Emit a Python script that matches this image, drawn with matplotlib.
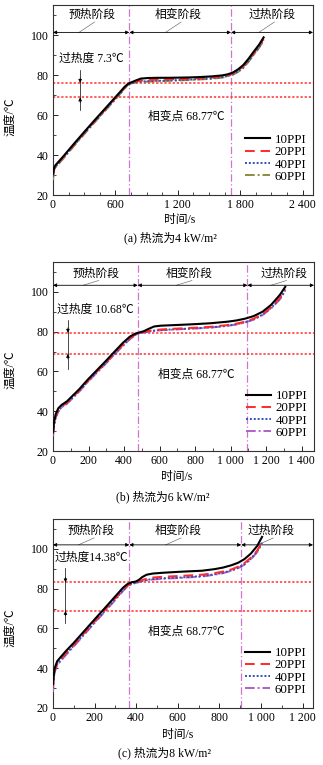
import matplotlib
matplotlib.use("Agg")
import matplotlib.pyplot as plt
from matplotlib.ticker import MultipleLocator, FixedLocator

plt.rcParams['font.family'] = ['Liberation Serif', 'Noto Sans CJK SC', 'DejaVu Sans']
plt.rcParams['axes.unicode_minus'] = False

series_names = ['10PPI', '20PPI', '40PPI', '60PPI']

# ---- panel (a) 4 kW/m2 ----
t_a = [0, 10, 25, 51, 102, 203, 305, 407, 508, 610, 691, 722, 752, 793, 844, 915, 1017, 1118,
       1220, 1322, 1423, 1525, 1627, 1677, 1728, 1779, 1830, 1881, 1932, 1982, 2025]
a_10 = [30.5, 33.5, 35.0, 36.5, 39.5, 45.7, 51.8, 57.8, 63.6, 69.5, 74.2, 75.6, 76.3, 77.2, 78.2, 78.5,
        78.6, 78.6, 78.7, 78.8, 79.0, 79.3, 79.8, 80.3, 81.2, 82.8, 85.0, 88.2, 91.8, 95.2, 98.8]
a_20 = [30.0, 33.0, 34.5, 36.0, 39.0, 45.2, 51.3, 57.3, 63.1, 69.0, 73.8, 75.3, 76.0, 76.6, 77.2, 77.5,
        77.7, 77.9, 78.0, 78.2, 78.4, 78.7, 79.3, 79.8, 80.7, 82.2, 84.3, 87.5, 91.0, 94.5, 98.0]
a_40 = [29.0, 32.5, 34.2, 35.7, 38.7, 44.9, 51.0, 57.0, 62.8, 68.7, 73.5, 75.1, 75.9, 76.3, 76.7, 76.9,
        77.1, 77.3, 77.5, 77.7, 78.0, 78.3, 78.9, 79.5, 80.3, 81.8, 83.8, 87.0, 90.5, 94.0, 97.5]
a_60 = [27.5, 32.0, 33.8, 35.4, 38.4, 44.6, 50.7, 56.7, 62.5, 68.4, 73.3, 75.0, 75.8, 76.2, 76.5, 76.7,
        76.9, 77.1, 77.3, 77.5, 77.8, 78.1, 78.7, 79.3, 80.1, 81.5, 83.5, 86.7, 90.2, 93.6, 97.2]

# ---- panel (b) 6 kW/m2 ----
t_b = [0, 5, 15, 30, 49, 79, 147, 197, 246, 295, 344, 393, 433, 462, 482, 511, 541, 570, 609, 688,
       786, 885, 983, 1032, 1081, 1130, 1180, 1229, 1278, 1308]
b_10 = [29.5, 34.0, 38.5, 41.5, 43.2, 45.0, 51.0, 56.0, 60.5, 65.0, 69.7, 74.3, 77.5, 78.9, 79.5, 80.2,
        81.5, 82.6, 83.0, 83.3, 83.7, 84.2, 85.0, 85.6, 86.5, 87.8, 90.0, 93.5, 98.5, 102.5]
b_20 = [28.5, 33.0, 37.5, 40.5, 42.5, 44.3, 50.3, 55.3, 59.8, 64.2, 68.8, 73.3, 76.6, 78.5, 79.3, 79.9,
        80.4, 80.8, 81.1, 81.5, 81.9, 82.4, 83.3, 84.0, 85.0, 86.5, 88.8, 92.3, 97.0, 101.3]
b_40 = [28.0, 32.5, 37.0, 40.0, 42.2, 44.0, 50.0, 55.0, 59.5, 63.9, 68.5, 73.0, 76.4, 78.3, 79.2, 79.7,
        80.1, 80.5, 80.8, 81.2, 81.6, 82.1, 83.0, 83.7, 84.7, 86.2, 88.5, 92.0, 96.5, 100.8]
b_60 = [27.5, 32.0, 36.7, 39.8, 42.0, 43.8, 49.8, 54.8, 59.3, 63.7, 68.3, 72.8, 76.2, 78.2, 79.1, 79.6,
        80.0, 80.4, 80.7, 81.1, 81.5, 82.0, 82.9, 83.6, 84.6, 86.0, 88.3, 91.7, 96.2, 100.5]

# ---- panel (c) 8 kW/m2 ----
t_c = [0, 3, 8, 20, 36, 61, 102, 153, 204, 256, 307, 337, 358, 378, 399, 414, 429, 450, 481, 532,
       614, 716, 777, 818, 859, 890, 920, 951, 982, 1005]
c_10 = [32.0, 36.0, 40.0, 43.5, 45.5, 48.5, 53.0, 59.0, 65.0, 71.0, 77.0, 80.5, 82.3, 83.2, 83.6, 84.5,
        85.8, 87.0, 87.6, 88.0, 88.5, 89.0, 89.8, 90.6, 91.8, 93.0, 94.8, 97.6, 101.5, 106.0]
c_20 = [30.5, 35.0, 39.0, 42.5, 44.5, 47.5, 52.0, 58.0, 64.0, 70.0, 76.0, 79.6, 81.6, 82.7, 83.2, 83.7,
        84.3, 85.0, 85.6, 86.0, 86.4, 87.0, 87.8, 88.6, 89.7, 91.0, 92.8, 95.6, 99.2, 103.5]
c_40 = [30.0, 34.5, 38.5, 42.0, 44.0, 47.0, 51.6, 57.6, 63.6, 69.6, 75.6, 79.2, 81.3, 82.5, 83.0, 83.4,
        83.9, 84.4, 84.8, 85.2, 85.6, 86.3, 87.2, 88.0, 89.2, 90.5, 92.3, 95.0, 98.7, 103.0]
c_60 = [28.0, 34.0, 38.0, 41.5, 43.5, 46.5, 51.2, 57.2, 63.2, 69.2, 75.2, 78.9, 81.1, 82.3, 82.9, 83.3,
        83.7, 84.2, 84.6, 85.0, 85.4, 86.1, 87.0, 87.8, 89.0, 90.3, 92.0, 94.7, 98.4, 102.7]

phase_point = 68.77
superheat = [7.3, 10.68, 14.38]
stage_bounds = [[734, 1712], [477, 1095], [367, 905]]
stage_names = ['预热阶段', '相变阶段', '过热阶段']
captions = ['(a) 热流为4 kW/m²', '(b) 热流为6 kW/m²', '(c) 热流为8 kW/m²']
superheat_texts = ['过热度 7.3℃', '过热度 10.68℃', '过热度14.38℃']
phase_text = '相变点 68.77℃'
xticks_major = [[0, 600, 1200, 1800, 2400],
                [0, 200, 400, 600, 800, 1000, 1200, 1400],
                [0, 200, 400, 600, 800, 1000, 1200]]
xtick_labels = [['0', '600', '1 200', '1 800', '2 400'],
                ['0', '200', '400', '600', '800', '1 000', '1 200', '1 400'],
                ['0', '200', '400', '600', '800', '1 000', '1 200']]
yticks = [20, 40, 60, 80, 100]

panels = [
    dict(t=t_a, ys=[a_10, a_20, a_40, a_60], xlim=(0, 2500), minor=150, c60='#8c8c3c',
         arrow_y=101.3, label_y=110.0, label_x=[375, 1207, 2104], vx=261, vtop=82.5, vbot=62.5,
         sh_xy=(59, 88.3), ph_xy=(913, 59.2)),
    dict(t=t_b, ys=[b_10, b_20, b_40, b_60], xlim=(0, 1470), minor=100, c60='#b060c8',
         arrow_y=103.3, label_y=109.2, label_x=[243, 768, 1301], vx=84, vtop=85.8, vbot=61.0,
         sh_xy=(22, 91.1), ph_xy=(590, 58.2)),
    dict(t=t_c, ys=[c_10, c_20, c_40, c_60], xlim=(0, 1250), minor=100, c60='#b060c8',
         arrow_y=102.0, label_y=109.0, label_x=[185, 604, 1047], vx=60, vtop=90.3, vbot=62.5,
         sh_xy=(8, 95.3), ph_xy=(456, 58.3)),
]

W, H = 323, 765
fig = plt.figure(figsize=(W / 100, H / 100), dpi=100)
boxes = [(53, 5, 313, 195), (53, 262, 314, 451), (53, 519, 313, 708)]
xlab_pos = [(180, 220), (177, 477), (178, 735)]
cap_pos = [(170, 238), (163, 497), (165, 753)]
ylab_pos = [(10, 117), (10, 370), (10, 628)]

fs = 8.5
styles = [dict(color='black', ls='-', lw=1.5),
          dict(color='#ff2a2a', ls=(0, (5, 3)), lw=1.4),
          dict(color='#2f4fc0', ls=(0, (1, 1)), lw=1.4),
          None]

for i, p in enumerate(panels):
    l, tp, r, b = boxes[i]
    ax = fig.add_axes([l / W, 1 - b / H, (r - l) / W, (b - tp) / H])
    for j, y in enumerate(p['ys']):
        st = styles[j] if j < 3 else dict(color=p['c60'], ls=(0, (5, 1.5, 1, 1.5)), lw=1.4)
        ax.plot(p['t'], y, label=series_names[j], zorder=5 - j * 0.1, **st)
    ax.set_xlim(*p['xlim'])
    ax.set_ylim(20, 115)
    ax.xaxis.set_major_locator(FixedLocator(xticks_major[i]))
    ax.set_xticklabels(xtick_labels[i])
    ax.xaxis.set_minor_locator(MultipleLocator(p['minor']))
    ax.set_yticks(yticks)
    ax.yaxis.set_minor_locator(MultipleLocator(10))
    ax.tick_params(which='both', direction='in', labelsize=fs, pad=3)
    ax.tick_params(which='major', length=3.5, width=0.6)
    ax.tick_params(which='minor', length=2, width=0.5)
    for s in ax.spines.values():
        s.set_linewidth(0.8)
        s.set_color('#333333')

    # stage boundaries
    for xb in stage_bounds[i]:
        ax.axvline(xb, color='#cc77cc', ls=(0, (6, 2, 1, 2)), lw=0.9, zorder=2)
    # red reference lines
    sh = phase_point + superheat[i]
    for yv in [sh, phase_point]:
        ax.axhline(yv, color='#ff3333', ls=(0, (1.5, 1.2)), lw=1.1, zorder=2)

    # stage double arrows
    edges = [p['xlim'][0]] + stage_bounds[i] + [p['xlim'][1]]
    ay = p['arrow_y']
    for k in range(3):
        ax.annotate('', xy=(edges[k], ay), xytext=(edges[k + 1], ay),
                    arrowprops=dict(arrowstyle='<|-|>', color='black', lw=0.6,
                                    mutation_scale=5, shrinkA=0, shrinkB=0))
        span = p['xlim'][1]
        lx = p['label_x'][k]
        ax.text(lx, p['label_y'], stage_names[k], ha='center', va='center', fontsize=fs)
        ax.plot([lx - 0.05 * span, lx + 0.01 * span], [ay, p['label_y'] - 3.5],
                color='#555555', lw=0.4)

    # superheat vertical arrows
    vx = p['vx']
    ax.plot([vx, vx], [p['vbot'], p['vtop']], color='black', lw=0.5)
    ax.annotate('', xy=(vx, sh), xytext=(vx, sh + 2.5),
                arrowprops=dict(arrowstyle='-|>', color='black', lw=0.5, mutation_scale=5,
                                shrinkA=0, shrinkB=0))
    ax.annotate('', xy=(vx, phase_point), xytext=(vx, phase_point - 2.5),
                arrowprops=dict(arrowstyle='-|>', color='black', lw=0.5, mutation_scale=5,
                                shrinkA=0, shrinkB=0))
    ax.text(p['sh_xy'][0], p['sh_xy'][1], superheat_texts[i], ha='left', va='center', fontsize=fs)
    ax.text(p['ph_xy'][0], p['ph_xy'][1], phase_text, ha='left', va='center', fontsize=fs)

    leg = ax.legend(loc='lower right', bbox_to_anchor=(0.985, 0.05), frameon=False, fontsize=9.3,
                    handlelength=1.95, handletextpad=0.4, labelspacing=0.02, borderaxespad=0.0,
                    borderpad=0.2)

    fig.text(xlab_pos[i][0] / W, 1 - xlab_pos[i][1] / H, '时间/s', ha='center', va='center',
             fontsize=fs)
    fig.text(cap_pos[i][0] / W, 1 - cap_pos[i][1] / H, captions[i], ha='center', va='center',
             fontsize=fs)
    fig.text(ylab_pos[i][0] / W, 1 - ylab_pos[i][1] / H, '温度/℃', ha='center', va='center',
             rotation=90, fontsize=fs)

fig.savefig('out.png', dpi=100)
